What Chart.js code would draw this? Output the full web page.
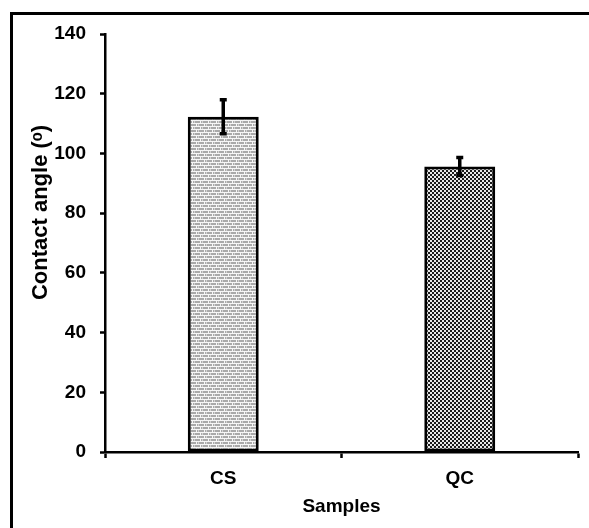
<!DOCTYPE html>
<html>
<head>
<meta charset="utf-8">
<script src="https://cdn.jsdelivr.net/npm/chart.js@4/dist/chart.umd.min.js"></script>
<style>
  html, body { margin: 0; padding: 0; background: #fff; }
  #wrap { width: 589px; height: 528px; }
</style>
</head>
<body>
<div id="wrap"><canvas id="grafic" width="589" height="528"></canvas></div>
<script>
"use strict";

// data
const categories = ['CS', 'QC'];
const angles = [112.3, 95.6];
const errors = [5.7, 3.0];
const yTicks = [0, 20, 40, 60, 80, 100, 120, 140];

const fontFamily = '"Liberation Sans", Arial, sans-serif';

// brick-like grey fill for CS
function brickPattern() {
    let c = document.createElement('canvas');
    c.width = 8; c.height = 6;
    let ctx = c.getContext('2d');
    ctx.fillStyle = '#a9a9a9';
    ctx.fillRect(0, 0, 8, 6);
    ctx.fillStyle = '#f6f6f6';
    ctx.fillRect(0, 0, 8, 1);
    ctx.fillRect(0, 3, 8, 1);
    ctx.fillRect(0, 1, 1, 2);
    ctx.fillRect(4, 4, 1, 2);
    ctx.fillStyle = '#d2d2d2';
    ctx.fillRect(2, 1, 1, 2);
    ctx.fillRect(6, 4, 1, 2);
    return ctx.createPattern(c, 'repeat');
}

// checkerboard fill for QC
function checkPattern() {
    let c = document.createElement('canvas');
    c.width = 4; c.height = 4;
    let ctx = c.getContext('2d');
    ctx.fillStyle = '#e8e8e8';
    ctx.fillRect(0, 0, 4, 4);
    ctx.fillStyle = '#1a1a1a';
    ctx.fillRect(0, 0, 2, 2);
    ctx.fillRect(2, 2, 2, 2);
    return ctx.createPattern(c, 'repeat');
}

const framePlugin = {
    id: 'frame',
    beforeDraw(chart) {
        let ctx = chart.ctx;
        ctx.save();
        ctx.fillStyle = '#fff';
        ctx.fillRect(0, 0, chart.width, chart.height);
        ctx.strokeStyle = '#000';
        ctx.lineWidth = 3;
        ctx.beginPath();
        ctx.moveTo(11.5, chart.height);
        ctx.lineTo(11.5, 13.5);
        ctx.lineTo(chart.width, 13.5);
        ctx.stroke();
        ctx.restore();
    }
};

const errorBarPlugin = {
    id: 'errorBars',
    afterDatasetsDraw(chart) {
        let ctx = chart.ctx;
        let y = chart.scales.y;
        let meta = chart.getDatasetMeta(0);
        ctx.save();
        ctx.strokeStyle = '#000';
        ctx.lineWidth = 3.5;
        meta.data.forEach(function (bar, i) {
            let top = y.getPixelForValue(angles[i] + errors[i]);
            let bottom = y.getPixelForValue(angles[i] - errors[i]);
            ctx.beginPath();
            ctx.moveTo(bar.x, top);
            ctx.lineTo(bar.x, bottom);
            ctx.moveTo(bar.x - 3.5, top);
            ctx.lineTo(bar.x + 3.5, top);
            ctx.moveTo(bar.x - 3.5, bottom);
            ctx.lineTo(bar.x + 3.5, bottom);
            ctx.stroke();
        });
        ctx.restore();
    }
};

function main() {
    const myChart = new Chart(document.getElementById('grafic'), {
        type: 'bar',
        data: {
            labels: categories,
            datasets: [{
                data: angles,
                backgroundColor: [brickPattern(), checkPattern()],
                borderColor: '#000',
                borderWidth: 3,
                borderSkipped: false,
                categoryPercentage: 1,
                barPercentage: 0.3
            }]
        },
        options: {
            responsive: false,
            animation: false,
            layout: { padding: { top: 34, right: 11, left: 0, bottom: 0 } },
            plugins: {
                legend: { display: false },
                tooltip: { enabled: false }
            },
            scales: {
                x: {
                    offset: true,
                    border: { color: '#000', width: 2.5 },
                    grid: {
                        offset: true,
                        drawOnChartArea: false,
                        drawTicks: true,
                        tickLength: 6,
                        tickColor: '#000',
                        tickWidth: 2.5
                    },
                    ticks: {
                        color: '#000',
                        padding: 9,
                        font: { family: fontFamily, size: 19, weight: 'bold' }
                    },
                    title: {
                        display: true,
                        text: 'Samples',
                        color: '#000',
                        padding: { top: 0, bottom: 10 },
                        font: { family: fontFamily, size: 19, weight: 'bold' }
                    },
                    afterFit: function (scale) { scale.height = 76; }
                },
                y: {
                    min: 0,
                    max: 140,
                    afterBuildTicks: function (scale) {
                        scale.ticks = yTicks.map(function (v) { return { value: v }; });
                    },
                    border: { color: '#000', width: 2.5 },
                    grid: {
                        drawOnChartArea: false,
                        drawTicks: true,
                        tickLength: 5,
                        tickColor: '#000',
                        tickWidth: 2.5
                    },
                    ticks: {
                        color: '#000',
                        padding: 14,
                        font: { family: fontFamily, size: 19, weight: 'bold' }
                    },
                    title: {
                        display: true,
                        // leading spaces push the text up, as in the original
                        text: '          Contact angle (ᵒ)',
                        color: '#000',
                        padding: { top: 28, bottom: 0 },
                        font: { family: fontFamily, size: 22, weight: 'bold' }
                    },
                    afterFit: function (scale) { scale.width = 105; }
                }
            }
        },
        plugins: [framePlugin, errorBarPlugin]
    });
}

document.addEventListener('DOMContentLoaded', main);
</script>
</body>
</html>
